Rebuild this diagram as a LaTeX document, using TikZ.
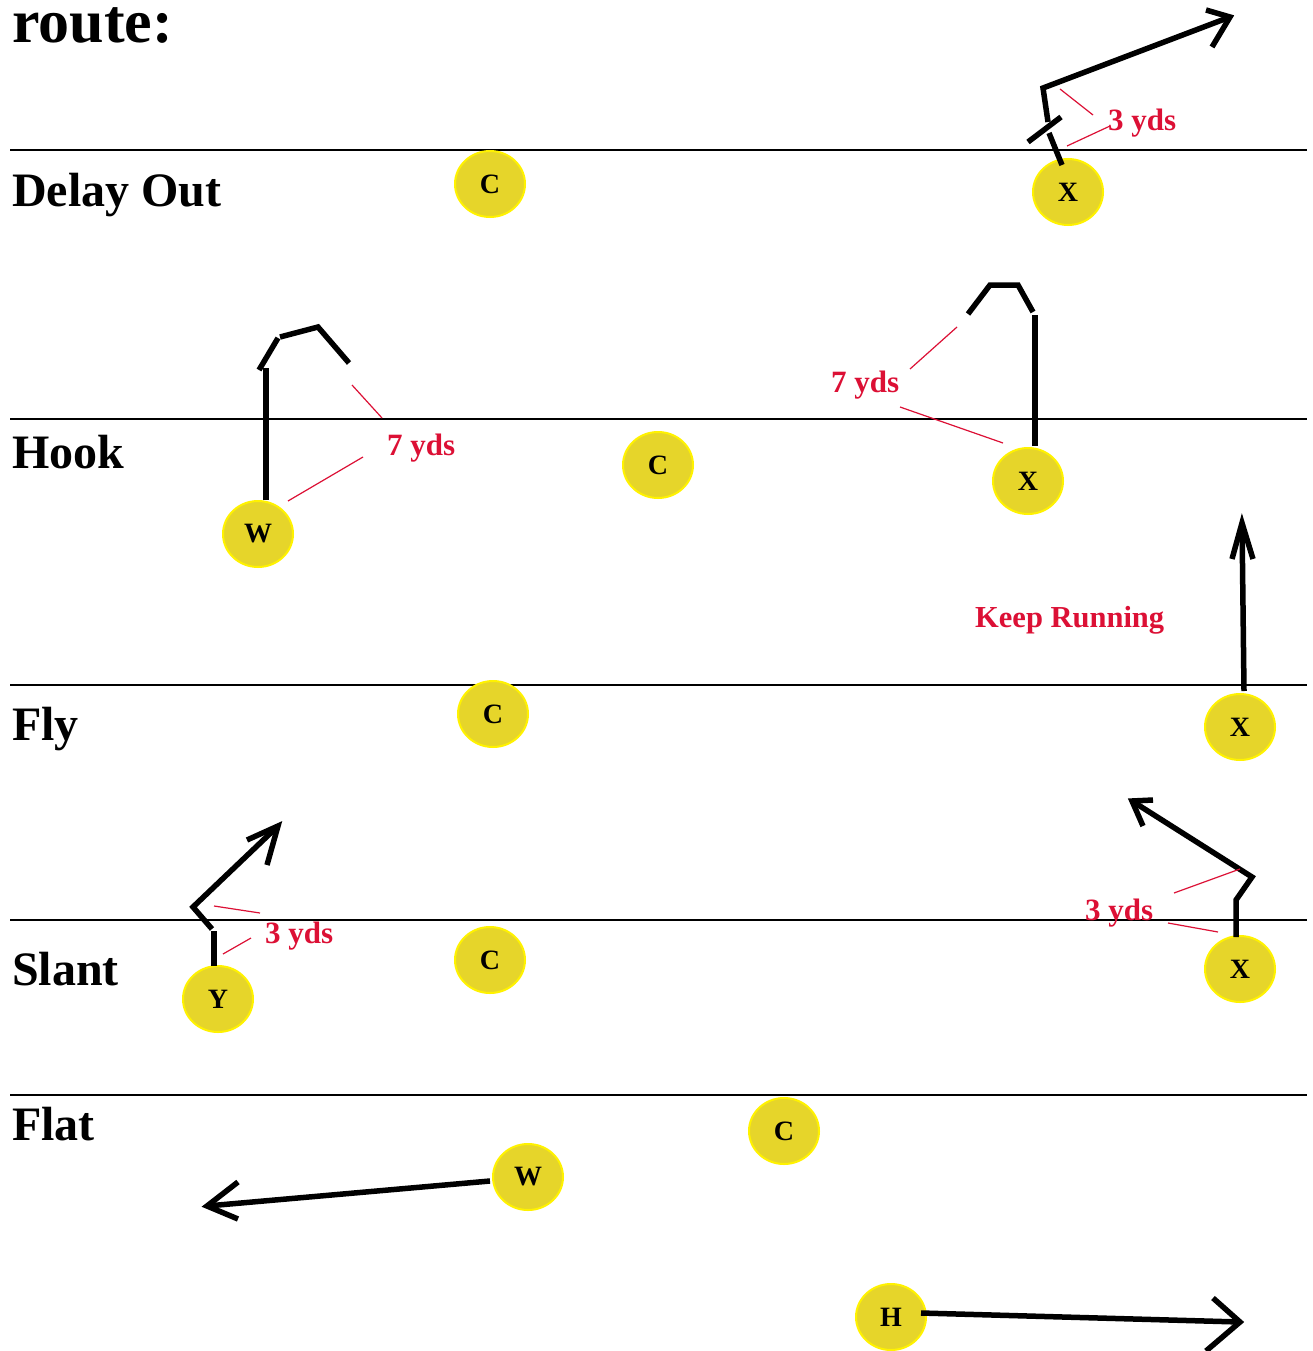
\documentclass[tikz,border=0pt]{standalone}
\usepackage{fontspec}
\setmainfont{Liberation Serif}
\begin{document}
\begin{tikzpicture}[x=1pt,y=-1pt,
  field/.style={line width=2pt,black},
  player/.style={ellipse,draw=yellow,line width=2pt,fill=plyellow,minimum width=70pt,minimum height=66pt,inner sep=0pt,font=\fontsize{28}{28}\selectfont\bfseries},
  title/.style={anchor=base west,inner sep=0pt,font=\fontsize{48}{48}\selectfont\bfseries},
  route/.style={line width=5.5pt,black},
  dist/.style={line width=1.2pt,redc},
  distlabel/.style={anchor=base west,inner sep=0pt,text=redc,font=\fontsize{31}{31}\selectfont\bfseries}
]
\usetikzlibrary{shapes.geometric}
\definecolor{plyellow}{HTML}{E6D52A}
\definecolor{redc}{HTML}{DC1035}
\useasboundingbox[fill=white] (0,0) rectangle (1312,1351);

% title
\node[anchor=base west,inner sep=0pt,font=\fontsize{62}{62}\selectfont\bfseries] (ttl) at (12,43) {route:};

% field lines
\foreach \n/\y in {l1/150,l2/419,l3/685,l4/920,l5/1095}{
  \coordinate (\n a) at (10,\y);
  \coordinate (\n b) at (1307,\y);
  \draw[field] (\n a) -- (\n b);
}

% section titles
\node[title] (tDelay) at (12,207) {Delay Out};
\node[title] (tHook) at (12,468) {Hook};
\node[title] (tFly) at (12,740) {Fly};
\node[title] (tSlant) at (12,985) {Slant};
\node[title] (tFlat) at (12,1140) {Flat};

% players
\node[player] (dC) at (490,184) {C};
\node[player] (dX) at (1068,192) {X};
\node[player] (hC) at (658,465) {C};
\node[player] (hX) at (1028,481) {X};
\node[player] (hW) at (258,534) {W};
\node[player] (fC) at (493,714) {C};
\node[player] (fX) at (1240,727) {X};
\node[player] (sC) at (490,960) {C};
\node[player] (sY) at (218,999) {Y};
\node[player] (sX) at (1240,969) {X};
\node[player] (tC) at (784,1131) {C};
\node[player] (tW) at (528,1177) {W};
\node[player] (tH) at (891,1317) {H};

% ---- Delay Out route
\coordinate (d0) at (1062,165);
\coordinate (d1) at (1049,133);
\coordinate (dh1) at (1028,142);
\coordinate (dh2) at (1061,117);
\coordinate (d2) at (1048,122);
\coordinate (d3) at (1043,88);
\coordinate (dtip) at (1230,17);
\coordinate (da1) at (1206,10);
\coordinate (da2) at (1212,47);
\draw[route] (d0) -- (d1);
\draw[route] (dh1) -- (dh2);
\draw[route] (d2) -- (d3) -- (dtip);
\draw[route] (da1) -- (dtip) -- (da2);
\coordinate (dr1) at (1060,89); \coordinate (dr2) at (1093,115);
\coordinate (dr3) at (1067,146); \coordinate (dr4) at (1110,126);
\draw[dist] (dr1) -- (dr2);
\draw[dist] (dr3) -- (dr4);
\node[distlabel] (dlab) at (1108,131) {3 yds};

% ---- Hook W route
\coordinate (hw0) at (266,500);
\coordinate (hw1) at (266,368);
\coordinate (hw2) at (259,370);
\coordinate (hw3) at (278,338);
\coordinate (hw4) at (280,337);
\coordinate (hw5) at (318,327);
\coordinate (hw6) at (349,363);
\draw[route] (hw0) -- (hw1);
\draw[route] (hw2) -- (hw3);
\draw[route] (hw4) -- (hw5) -- (hw6);
\coordinate (hwr1) at (352,385); \coordinate (hwr2) at (382,418);
\coordinate (hwr3) at (288,501); \coordinate (hwr4) at (363,457);
\draw[dist] (hwr1) -- (hwr2);
\draw[dist] (hwr3) -- (hwr4);
\node[distlabel] (hwlab) at (387,455) {7 yds};

% ---- Hook X route
\coordinate (hx0) at (1035,446);
\coordinate (hx1) at (1035,315);
\coordinate (hx2) at (1033,312);
\coordinate (hx3) at (1018,285);
\coordinate (hx4) at (990,285);
\coordinate (hx5) at (968,314);
\draw[route] (hx0) -- (hx1);
\draw[route] (hx2) -- (hx3) -- (hx4) -- (hx5);
\coordinate (hxr1) at (957,327); \coordinate (hxr2) at (910,369);
\coordinate (hxr3) at (900,407); \coordinate (hxr4) at (1003,443);
\draw[dist] (hxr1) -- (hxr2);
\draw[dist] (hxr3) -- (hxr4);
\node[distlabel] (hxlab) at (831,392) {7 yds};

% ---- Fly route
\coordinate (f0) at (1244,691);
\coordinate (ftip) at (1242,523);
\coordinate (fa1) at (1232,559);
\coordinate (fa2) at (1253,559);
\draw[route] (f0) -- (ftip);
\draw[route] (fa1) -- (ftip) -- (fa2);
\node[anchor=base west,inner sep=0pt,text=redc,font=\fontsize{30.5}{30.5}\selectfont\bfseries] (keep) at (975,627) {Keep Running};

% ---- Slant Y route
\coordinate (sy0) at (214,966);
\coordinate (sy1) at (214,931);
\coordinate (sy2) at (212,929);
\coordinate (sy3) at (193,907);
\coordinate (sytip) at (278,826);
\coordinate (sya1) at (247,840);
\coordinate (sya2) at (267,865);
\draw[route] (sy0) -- (sy1);
\draw[route] (sy2) -- (sy3) -- (sytip);
\draw[route] (sya1) -- (sytip) -- (sya2);
\coordinate (syr1) at (214,906); \coordinate (syr2) at (260,913);
\coordinate (syr3) at (223,954); \coordinate (syr4) at (251,938);
\draw[dist] (syr1) -- (syr2);
\draw[dist] (syr3) -- (syr4);
\node[distlabel] (sylab) at (265,943) {3 yds};

% ---- Slant X route
\coordinate (sx0) at (1236,937);
\coordinate (sx1) at (1236,900);
\coordinate (sx2) at (1252,877);
\coordinate (sxtip) at (1132,801);
\coordinate (sxa1) at (1153,800);
\coordinate (sxa2) at (1143,826);
\draw[route] (sx0) -- (sx1) -- (sx2) -- (sxtip);
\draw[route] (sxa1) -- (sxtip) -- (sxa2);
\coordinate (sxr1) at (1240,869); \coordinate (sxr2) at (1174,893);
\coordinate (sxr3) at (1168,923); \coordinate (sxr4) at (1218,932);
\draw[dist] (sxr1) -- (sxr2);
\draw[dist] (sxr3) -- (sxr4);
\node[distlabel] (sxlab) at (1085,920) {3 yds};

% ---- Flat W route
\coordinate (tw0) at (490,1181);
\coordinate (twtip) at (207,1206);
\coordinate (twa1) at (238,1182);
\coordinate (twa2) at (238,1219);
\draw[route] (tw0) -- (twtip);
\draw[route] (twa1) -- (twtip) -- (twa2);

% ---- Flat H route
\coordinate (th0) at (921,1313);
\coordinate (thtip) at (1240,1322);
\coordinate (tha1) at (1213,1298);
\coordinate (tha2) at (1206,1351);
\draw[route] (th0) -- (thtip);
\draw[route] (tha1) -- (thtip) -- (tha2);
\end{tikzpicture}
\end{document}
